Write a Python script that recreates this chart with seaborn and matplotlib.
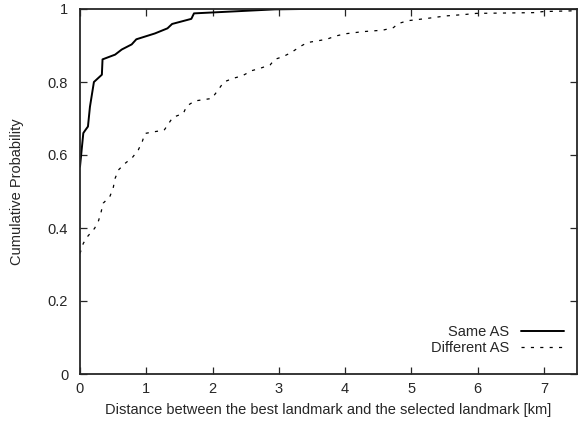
import pandas as pd
import matplotlib
matplotlib.use("Agg")
import matplotlib.pyplot as plt
import seaborn as sns

# CDF points (distance in km, cumulative probability)
same_x = [0, 0.02, 0.05, 0.08, 0.12, 0.15, 0.21, 0.33, 0.34, 0.53, 0.63, 0.78,
          0.85, 1.13, 1.32, 1.39, 1.68, 1.72, 2.94, 3.35, 7.5]
same_y = [0.568, 0.605, 0.66, 0.668, 0.678, 0.732, 0.80, 0.82, 0.862, 0.875, 0.889,
          0.903, 0.917, 0.933, 0.947, 0.959, 0.973, 0.988, 0.999, 1.0, 1.0]

diff_x = [0, 0.05, 0.12, 0.22, 0.28, 0.32, 0.35, 0.45, 0.5, 0.53, 0.58, 0.68,
          0.79, 0.88, 0.94, 0.98, 1.13, 1.27, 1.40, 1.56, 1.61, 1.73, 1.99, 2.10,
          2.17, 2.31, 2.45, 2.59, 2.71, 2.87, 2.94, 3.07, 3.19, 3.32, 3.43, 3.72,
          3.86, 4.0, 4.27, 4.57, 4.73, 4.80, 4.95, 5.23, 5.52, 5.81, 5.98, 6.84,
          6.99, 7.44, 7.5]
diff_y = [0.33, 0.358, 0.378, 0.399, 0.42, 0.445, 0.468, 0.486, 0.509, 0.536,
          0.559, 0.577, 0.593, 0.614, 0.637, 0.659, 0.664, 0.668, 0.703, 0.714,
          0.734, 0.748, 0.755, 0.782, 0.80, 0.81, 0.817, 0.831, 0.837, 0.847,
          0.862, 0.87, 0.881, 0.897, 0.908, 0.917, 0.926, 0.932, 0.938, 0.942,
          0.949, 0.96, 0.968, 0.974, 0.981, 0.985, 0.988, 0.99, 0.993, 0.995, 0.995]

x_ticks = [0, 1, 2, 3, 4, 5, 6, 7]
y_ticks = [0, 0.2, 0.4, 0.6, 0.8, 1]

df = pd.concat([
    pd.DataFrame({"dist": same_x, "prob": same_y, "group": "Same AS"}),
    pd.DataFrame({"dist": diff_x, "prob": diff_y, "group": "Different AS"}),
])

sns.set_style("ticks")
plt.rcParams["font.family"] = ["Liberation Sans", "DejaVu Sans"]
fs = 10.5

fig = plt.figure(figsize=(5.78, 4.21), dpi=100)
ax = fig.add_axes([80 / 578, 47 / 421, 497 / 578, 365 / 421])

sns.lineplot(data=df, x="dist", y="prob", hue="group", style="group",
             palette={"Same AS": "black", "Different AS": "black"},
             dashes={"Same AS": "", "Different AS": (2.5, 5)},
             sort=False, estimator=None, ax=ax, legend=False)
lines = ax.get_lines()
lines[0].set_linewidth(1.4)
lines[1].set_linewidth(0.9)

ax.set_xlim(0, 7.5)
ax.set_ylim(0, 1)
ax.set_xticks(x_ticks)
ax.set_yticks(y_ticks)
ax.set_yticklabels(["0", "0.2", "0.4", "0.6", "0.8", "1"])
ax.tick_params(direction="in", length=5, width=0.9, top=True, right=True,
               labelsize=fs)
ax.tick_params(axis="y", pad=8.5)
ax.tick_params(axis="x", pad=6)
for s in ax.spines.values():
    s.set_linewidth(1.3)

ax.set_xlabel("Distance between the best landmark and the selected landmark [km]",
              fontsize=fs, labelpad=5)
ax.set_ylabel("Cumulative Probability", fontsize=fs, labelpad=17)

ax.legend(lines, ["Same AS", "Different AS"], loc="lower right", frameon=False,
          markerfirst=False, fontsize=fs, handlelength=3.0, labelspacing=0.1,
          bbox_to_anchor=(0.995, 0.025), borderaxespad=0.3)

fig.savefig("out.png", dpi=100)
